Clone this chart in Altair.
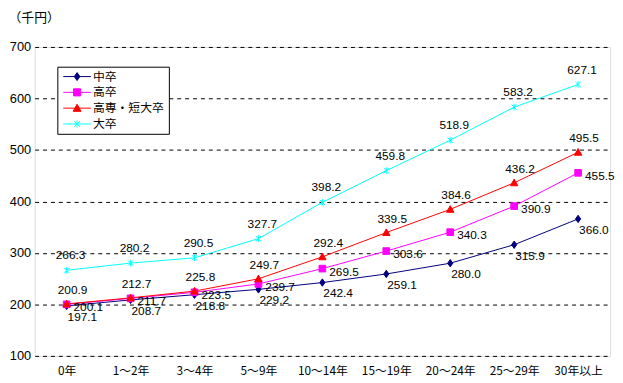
import altair as alt
import pandas as pd

categories = ["0年", "1～2年", "3～4年", "5～9年", "10～14年", "15～19年", "20～24年", "25～29年", "30年以上"]
series_names = ["中卒", "高卒", "高専・短大卒", "大卒"]
chusotsu = [197.1, 208.7, 218.8, 229.2, 242.4, 259.1, 280.0, 315.9, 366.0]
kosotsu = [200.1, 211.7, 223.5, 239.7, 269.5, 303.6, 340.3, 390.9, 455.5]
tandai = [200.9, 212.7, 225.8, 249.7, 292.4, 339.5, 384.6, 436.2, 495.5]
daisotsu = [266.3, 280.2, 290.5, 327.7, 398.2, 459.8, 518.9, 583.2, 627.1]
colors = ["#000080", "#FF00FF", "#FF0000", "#00FFFF"]

rows = []
for name, vals in zip(series_names, [chusotsu, kosotsu, tandai, daisotsu]):
    for c, v in zip(categories, vals):
        rows.append({"cat": c, "series": name, "value": v})
df = pd.DataFrame(rows)

marker_paths = [
    "M0,-1L0.7,0L0,1L-0.7,0Z",
    "M-0.9,-0.9H0.9V0.9H-0.9Z",
    "M0,-1L1,0.8H-1Z",
    "M-0.7,-0.7L0.7,0.7M0.7,-0.7L-0.7,0.7M0,-0.9V0.9",
]
legend_paths = ["M-3.5,0H3.5" + p for p in marker_paths]

FONT = "Noto Sans CJK JP"
NUMFONT = "Liberation Sans"

x = alt.X("cat:N", sort=categories, scale=alt.Scale(type="point", padding=0.5),
          axis=alt.Axis(title=None, labelAngle=0, ticks=False, domain=False, grid=False,
                        labelFont=FONT, labelFontSize=12, labelColor="black", labelPadding=10))
y = alt.Y("value:Q", scale=alt.Scale(domain=[100, 700], nice=False, zero=False),
          axis=alt.Axis(values=[100, 200, 300, 400, 500, 600, 700], ticks=False, domain=False,
                        grid=True, gridColor="black", gridDash=[4, 4], gridWidth=1, gridOpacity=1,
                        labelFont=NUMFONT, labelFontSize=13, labelColor="black", labelPadding=4,
                        title="（千円）", titleAngle=0, titleAlign="left", titleBaseline="top",
                        titleX=-27, titleY=-36, titleFont=FONT, titleFontSize=13,
                        titleFontWeight="normal", titleColor="black"))

cscale = alt.Scale(domain=series_names, range=colors)

base = alt.Chart(df)

lines = base.mark_line(strokeWidth=1).encode(
    x=x, y=y, color=alt.Color("series:N", scale=cscale, legend=None),
    detail="series:N")

points = base.mark_point(filled=True, size=56, opacity=1, strokeWidth=1).encode(
    x=x, y=y,
    shape=alt.Shape("series:N", scale=alt.Scale(domain=series_names, range=marker_paths), legend=None),
    fill=alt.Fill("series:N", scale=cscale, legend=None),
    stroke=alt.Stroke("series:N", scale=cscale, legend=None))

leg = alt.Legend(title=None, orient="none", legendX=23, legendY=20, fillColor="white",
                 strokeColor="black", padding=4, symbolOffset=10, labelOffset=10,
                 symbolOpacity=1, symbolSize=64, symbolStrokeWidth=1, rowPadding=4,
                 labelFont=FONT, labelFontSize=12, labelColor="black", labelLimit=200)

legend_layer = base.mark_point(filled=True, size=64, opacity=0, strokeWidth=1).encode(
    x=x, y=y,
    shape=alt.Shape("series:N", scale=alt.Scale(domain=series_names, range=legend_paths), legend=leg),
    fill=alt.Fill("series:N", scale=cscale, legend=leg),
    stroke=alt.Stroke("series:N", scale=cscale, legend=leg))

def labels(name, dx, dy, align):
    return base.transform_filter(alt.datum.series == name).mark_text(
        dx=dx, dy=dy, align=align, baseline="middle", font=NUMFONT, fontSize=12, color="black"
    ).encode(x=x, y=y, text=alt.Text("value:Q", format=".1f"))

lab = [
    labels("中卒", 1, 11, "left"),
    labels("高卒", 7, 3, "left"),
    labels("高専・短大卒", 6, -14, "center"),
    labels("大卒", 4, -15, "center"),
]

chart = alt.layer(lines, points, legend_layer, *lab).resolve_scale(
    shape="independent", fill="independent", stroke="independent", color="independent"
).properties(
    width=583, height=313,
    autosize=alt.AutoSizeParams(type="none"),
    padding={"left": 27, "top": 37, "right": 5, "bottom": 25},
).configure_view(stroke="black", strokeWidth=1).configure(background="white")

chart.save("out.html", embed_options={"renderer": "svg", "actions": False})
